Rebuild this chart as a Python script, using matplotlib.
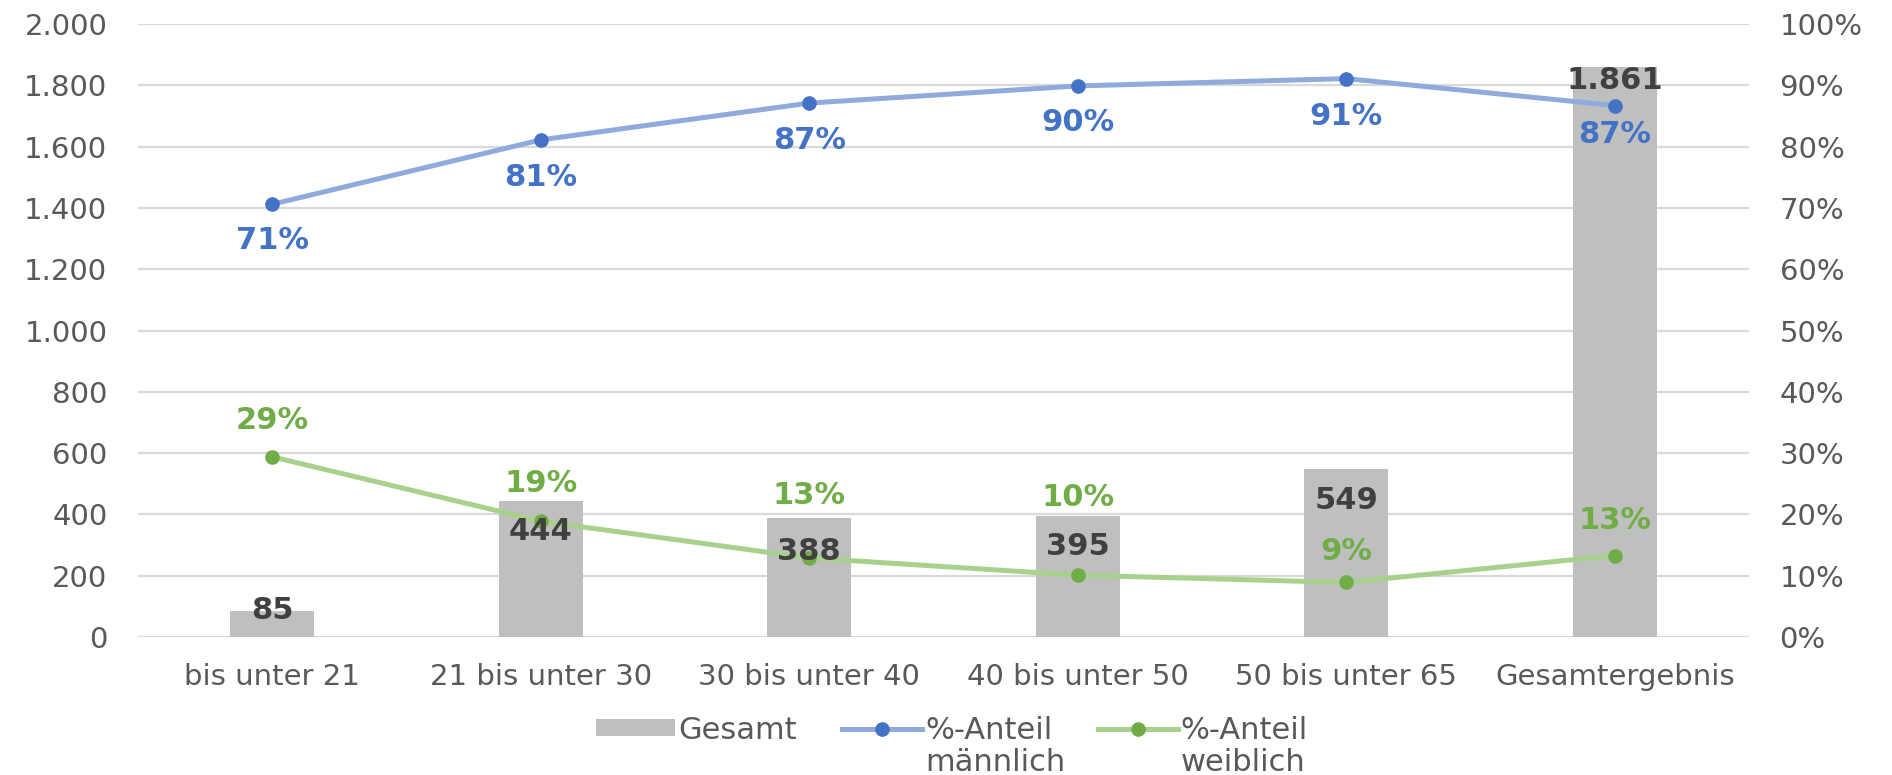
import matplotlib
matplotlib.use("Agg")
import matplotlib.pyplot as plt
from matplotlib.ticker import FixedLocator, FuncFormatter
from matplotlib.lines import Line2D
from matplotlib.patches import Patch

# Altersgruppen und Werte
categories = ["bis unter 21", "21 bis unter 30", "30 bis unter 40",
              "40 bis unter 50", "50 bis unter 65", "Gesamtergebnis"]
gesamt = [85, 444, 388, 395, 549, 1861]
anteil_maennlich = [0.706, 0.811, 0.871, 0.899, 0.911, 0.867]
anteil_weiblich = [0.294, 0.189, 0.129, 0.101, 0.089, 0.133]

left_ticks = list(range(0, 2001, 200))
right_ticks = [i / 10 for i in range(11)]

# Farben
BAR = "#BFBFBF"
GRID = "#D9D9D9"
TICK = "#595959"
LABEL_DARK = "#404040"
BLUE_LINE, BLUE = "#8FAADC", "#4472C4"
GREEN_LINE, GREEN = "#A9D18E", "#70AD47"

# Beschriftungsabstände (Punkte) relativ zum jeweiligen Datenpunkt
bar_label_dy = [0, -22, -24, -22, -23, -10]
m_label_dy = [-26, -27, -27, -26, -27, -21]
w_label_dy = [26, 27, 45, 56, 22, 25]

plt.rcParams["font.family"] = ["DejaVu Sans"]

fig = plt.figure(figsize=(18.92, 7.75), dpi=100)
ax = fig.add_axes([0.0729, 0.178, 0.8515, 0.791])
ax2 = ax.twinx()

x = list(range(len(categories)))

ax.bar(x, gesamt, width=0.313, color=BAR, zorder=2)
ax.set_xlim(-0.5, len(categories) - 0.5)
ax.set_ylim(0, 2000)
ax.yaxis.set_major_locator(FixedLocator(left_ticks))
ax.yaxis.set_major_formatter(FuncFormatter(lambda v, p: f"{int(v):,}".replace(",", ".")))
ax.set_axisbelow(True)
ax.yaxis.grid(True, color=GRID, lw=1.6)
ax.set_xticks(x)
ax.set_xticklabels(categories)

ax2.set_ylim(0, 1)
ax2.yaxis.set_major_locator(FixedLocator(right_ticks))
ax2.yaxis.set_major_formatter(FuncFormatter(lambda v, p: f"{round(v * 100)}%"))

for a in (ax, ax2):
    for s in a.spines.values():
        s.set_visible(False)
    a.tick_params(length=0, labelsize=21, labelcolor=TICK)
ax.tick_params(axis="y", pad=22)
ax2.tick_params(axis="y", pad=22)
ax.tick_params(axis="x", pad=19)

ax2.plot(x, anteil_maennlich, color=BLUE_LINE, lw=3.6, marker="o", ms=9.5,
         mfc=BLUE, mec=BLUE, solid_capstyle="round", zorder=3)
ax2.plot(x, anteil_weiblich, color=GREEN_LINE, lw=3.6, marker="o", ms=9.5,
         mfc=GREEN, mec=GREEN, solid_capstyle="round", zorder=3)

lbl = dict(fontsize=22, fontweight="bold", ha="center", va="center",
           textcoords="offset points", zorder=5)
for xi, v, dy in zip(x, gesamt, bar_label_dy):
    ax2.annotate(f"{v:,}".replace(",", "."), xy=(xi, v / 2000), xytext=(0, dy),
                 color=LABEL_DARK, **lbl)
for xi, v, dy in zip(x, anteil_maennlich, m_label_dy):
    ax2.annotate(f"{round(v * 100)}%", xy=(xi, v), xytext=(0, dy), color=BLUE, **lbl)
for xi, v, dy in zip(x, anteil_weiblich, w_label_dy):
    ax2.annotate(f"{round(v * 100)}%", xy=(xi, v), xytext=(0, dy), color=GREEN, **lbl)

# Legende; die zweite Zeile der Linienbeschriftungen steht unter der ersten
handles = [
    Patch(facecolor=BAR, edgecolor="none"),
    Line2D([], [], color=BLUE_LINE, lw=3.6, marker="o", ms=9.5, mfc=BLUE, mec=BLUE),
    Line2D([], [], color=GREEN_LINE, lw=3.6, marker="o", ms=9.5, mfc=GREEN, mec=GREEN),
]
leg = fig.legend(handles, ["Gesamt", "%-Anteil", "%-Anteil"], ncol=3,
                 loc="center", bbox_to_anchor=(0.503, 0.058), frameon=False,
                 fontsize=22, handlelength=2.6, handleheight=0.5,
                 handletextpad=0.1, columnspacing=1.5, labelcolor=TICK)

fig.canvas.draw()
inv = fig.transFigure.inverted()
for t, second in zip(leg.get_texts()[1:], ["männlich", "weiblich"]):
    bb = t.get_window_extent()
    x0, y0 = inv.transform((bb.x0, bb.y0 - 3))
    fig.text(x0, y0, second, ha="left", va="top", fontsize=22, color=TICK)

fig.savefig("out.png", dpi=100)
